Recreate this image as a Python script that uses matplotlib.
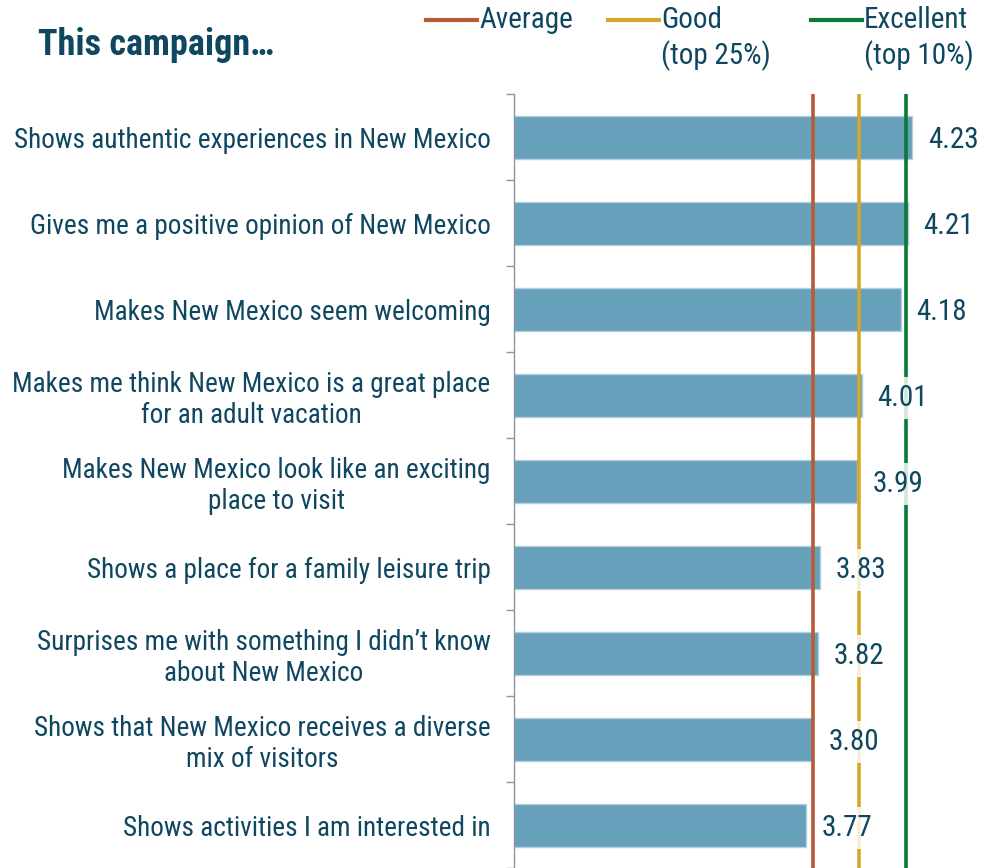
import matplotlib.pyplot as plt
import numpy as np
from matplotlib.lines import Line2D

categories = [
    "Shows authentic experiences in New Mexico",
    "Gives me a positive opinion of New Mexico",
    "Makes New Mexico seem welcoming",
    "Makes me think New Mexico is a great place\nfor an adult vacation",
    "Makes New Mexico look like an exciting\nplace to visit",
    "Shows a place for a family leisure trip",
    "Surprises me with something I didn\u2019t know\nabout New Mexico",
    "Shows that New Mexico receives a diverse\nmix of visitors",
    "Shows activities I am interested in",
]
scores = [4.23, 4.21, 4.18, 4.01, 3.99, 3.83, 3.82, 3.80, 3.77]

benchmark_names = ["Average", "Good", "Excellent"]
benchmark_notes = ["", "(top 25%)", "(top 10%)"]
benchmark_values = [3.80, 4.00, 4.20]
benchmark_colors = ["#b75b36", "#d6a72a", "#0b7a38"]

TEXT = "#0f4760"
BAR = "#66a0bb"

plt.rcParams['font.family'] = ['Roboto Condensed', 'DejaVu Sans']

fig = plt.figure(figsize=(9.92, 8.68), dpi=100)
ax = fig.add_axes([514 / 992, 0.0, 1 - 514 / 992, (868 - 94) / 868])

y = np.arange(len(categories))
ax.barh(y, scores, height=0.5, left=0, color=BAR, edgecolor="#b3cfdd",
        linewidth=1, zorder=2)
ax.set_xlim(2.5, 2.5 + 478 / 230.3)
ax.set_ylim(len(categories) - 0.5, -0.5)

for val, col in zip(benchmark_values, benchmark_colors):
    ax.axvline(val, color=col, linewidth=2.6, zorder=3)

for yi, val in zip(y, scores):
    ax.annotate(f"{val:.2f}", xy=(val, yi), xytext=(11, 0),
                textcoords="offset points", ha="left", va="center_baseline",
                fontsize=21, color=TEXT, zorder=4,
                bbox=dict(facecolor="white", edgecolor="none", alpha=0.82, pad=5))

# category labels centred on bars, ticks on the band boundaries
ax.set_yticks(y)
ax.set_yticklabels(categories, fontsize=19.6, color=TEXT, multialignment="center",
                   linespacing=1.2)
ax.tick_params(axis="y", which="major", length=0, pad=17)
ax.set_yticks(np.arange(len(categories) + 1) - 0.5, minor=True)
ax.tick_params(axis="y", which="minor", length=6, width=1, color="#8c96a0")
ax.set_xticks([])

for side in ("top", "right", "bottom"):
    ax.spines[side].set_visible(False)
ax.spines["left"].set_color("#8c96a0")
ax.spines["left"].set_linewidth(1)

fig.text(38 / 992, 1 - 45 / 868, "This campaign\u2026", fontsize=26,
         fontweight="bold", color=TEXT, va="center", ha="left")

# benchmark key along the top
key_x = [426, 608, 811]
for x0, name, note, col in zip(key_x, benchmark_names, benchmark_notes,
                               benchmark_colors):
    fig.add_artist(Line2D([x0 / 992, (x0 + 51) / 992], [1 - 20 / 868] * 2,
                          color=col, linewidth=3, transform=fig.transFigure))
    fig.text((x0 + 53) / 992, 1 - 20 / 868, name, fontsize=21, color=TEXT,
             va="center", ha="left")
    if note:
        fig.text((x0 + 53) / 992, 1 - 56 / 868, note, fontsize=21, color=TEXT,
                 va="center", ha="left")

fig.savefig("out.png", dpi=100)
